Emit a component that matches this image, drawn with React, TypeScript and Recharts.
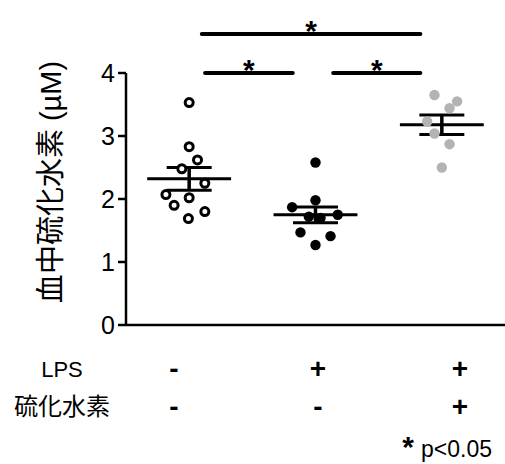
import { ScatterChart, Scatter, XAxis, YAxis, ReferenceLine } from "recharts";

// values, jitter = horizontal offset of each dot from its group
const ctrlValues = [3.53, 2.83, 2.62, 2.48, 2.25, 2.07, 2.02, 1.9, 1.8, 1.69];
const ctrlJitter = [0, 0, 0.066, -0.058, 0.124, -0.184, 0, -0.119, 0.124, -0.006];
const lpsValues = [2.58, 1.98, 1.87, 1.72, 1.75, 1.7, 1.47, 1.41, 1.27];
const lpsJitter = [0, 0, -0.185, -0.053, 0.176, 0.04, -0.119, 0.119, 0];
const h2sValues = [3.65, 3.55, 3.44, 3.23, 3.04, 2.87, 2.5];
const h2sJitter = [-0.058, 0.121, 0.061, -0.116, -0.058, 0.061, 0];

const means = [2.32, 1.75, 3.18];
const sems = [0.18, 0.125, 0.155];

const yTicks = [0, 1, 2, 3, 4];
const sigBars = [
  { from: 0.1, to: 1.83, y: 4.62 },
  { from: 0.126, to: 0.82, y: 4.0 },
  { from: 1.14, to: 1.83, y: 4.0 },
];

const lpsRow = ["-", "+", "+"];
const h2sRow = ["-", "-", "+"];

const FONT = "'Liberation Sans', Arial, 'Noto Sans CJK JP', sans-serif";
const MEAN_HALF = 0.332;
const CAP_HALF = 0.178;
const colX = [174, 318, 460];

const toPoints = (vals: number[], jit: number[], g: number) =>
  vals.map((v, i) => ({ x: g + jit[i], y: v }));

const openCircle = (p: any) => (
  <circle cx={p.cx} cy={p.cy} r={4} fill="#fff" stroke="#000" strokeWidth={3} />
);
const blackDot = (p: any) => <circle cx={p.cx} cy={p.cy} r={5.2} fill="#000" />;
const grayDot = (p: any) => <circle cx={p.cx} cy={p.cy} r={5.2} fill="#b3b3b3" />;

export default function App() {
  return (
    <div style={{ position: "absolute", left: 0, top: 0, width: 505, height: 464, background: "#fff" }}>
      <ScatterChart width={505} height={464} margin={{ top: 73, right: 0, left: 66, bottom: 109 }}>
        <XAxis
          type="number"
          dataKey="x"
          domain={[-0.5, 2.5]}
          ticks={[0, 1, 2]}
          tick={false}
          tickSize={8}
          height={30}
          axisLine={{ stroke: "#000", strokeWidth: 2.5 }}
          tickLine={{ stroke: "#000", strokeWidth: 2.5 }}
        />
        <YAxis
          type="number"
          dataKey="y"
          domain={[0, 4]}
          ticks={yTicks}
          width={60}
          tickSize={8}
          tickMargin={3}
          axisLine={{ stroke: "#000", strokeWidth: 2.5 }}
          tickLine={{ stroke: "#000", strokeWidth: 2.5 }}
          tick={{ fill: "#000", fontSize: 25, fontFamily: FONT }}
        />
        <Scatter data={toPoints(ctrlValues, ctrlJitter, 0)} shape={openCircle} isAnimationActive={false} />
        <Scatter data={toPoints(lpsValues, lpsJitter, 1)} shape={blackDot} isAnimationActive={false} />
        <Scatter data={toPoints(h2sValues, h2sJitter, 2)} shape={grayDot} isAnimationActive={false} />
        {means.map((m, i) => (
          <ReferenceLine
            key={"m" + i}
            segment={[{ x: i - MEAN_HALF, y: m }, { x: i + MEAN_HALF, y: m }]}
            stroke="#000"
            strokeWidth={3}
          />
        ))}
        {means.map((m, i) => (
          <ReferenceLine
            key={"v" + i}
            segment={[{ x: i, y: m - sems[i] }, { x: i, y: m + sems[i] }]}
            stroke="#000"
            strokeWidth={3.5}
          />
        ))}
        {means.map((m, i) => (
          <ReferenceLine
            key={"t" + i}
            segment={[{ x: i - CAP_HALF, y: m + sems[i] }, { x: i + CAP_HALF, y: m + sems[i] }]}
            stroke="#000"
            strokeWidth={3}
          />
        ))}
        {means.map((m, i) => (
          <ReferenceLine
            key={"b" + i}
            segment={[{ x: i - CAP_HALF, y: m - sems[i] }, { x: i + CAP_HALF, y: m - sems[i] }]}
            stroke="#000"
            strokeWidth={3}
          />
        ))}
        {sigBars.map((s, i) => (
          <ReferenceLine
            key={"s" + i}
            segment={[{ x: s.from, y: s.y }, { x: s.to, y: s.y }]}
            stroke="#000"
            strokeWidth={4}
            strokeLinecap="round"
            ifOverflow="visible"
            label={{ value: "*", position: "top", offset: -7, fontSize: 30, fontWeight: "bold", fill: "#000", fontFamily: FONT }}
          />
        ))}
      </ScatterChart>
      <svg width={505} height={464} style={{ position: "absolute", left: 0, top: 0, pointerEvents: "none" }}>
        <text
          x={51}
          y={182}
          transform="rotate(-90 51 182)"
          textAnchor="middle"
          dominantBaseline="central"
          fontSize={29}
          fontFamily={FONT}
          fill="#000"
        >
          血中硫化水素 (µM)
        </text>
        <text x={62} y={377} textAnchor="middle" fontSize={22} fontFamily={FONT} fill="#000">LPS</text>
        <text x={62} y={415} textAnchor="middle" fontSize={24} fontFamily={FONT} fill="#000">硫化水素</text>
        {lpsRow.map((t, i) => (
          <text key={"r1" + i} x={colX[i]} y={378} textAnchor="middle" fontSize={28} fontWeight="bold" fontFamily={FONT} fill="#000">{t}</text>
        ))}
        {h2sRow.map((t, i) => (
          <text key={"r2" + i} x={colX[i]} y={416} textAnchor="middle" fontSize={28} fontWeight="bold" fontFamily={FONT} fill="#000">{t}</text>
        ))}
        <text x={408} y={457} textAnchor="middle" fontSize={30} fontWeight="bold" fontFamily={FONT} fill="#000">*</text>
        <text x={421} y={457} fontSize={23} fontFamily={FONT} fill="#000">p&lt;0.05</text>
      </svg>
    </div>
  );
}
